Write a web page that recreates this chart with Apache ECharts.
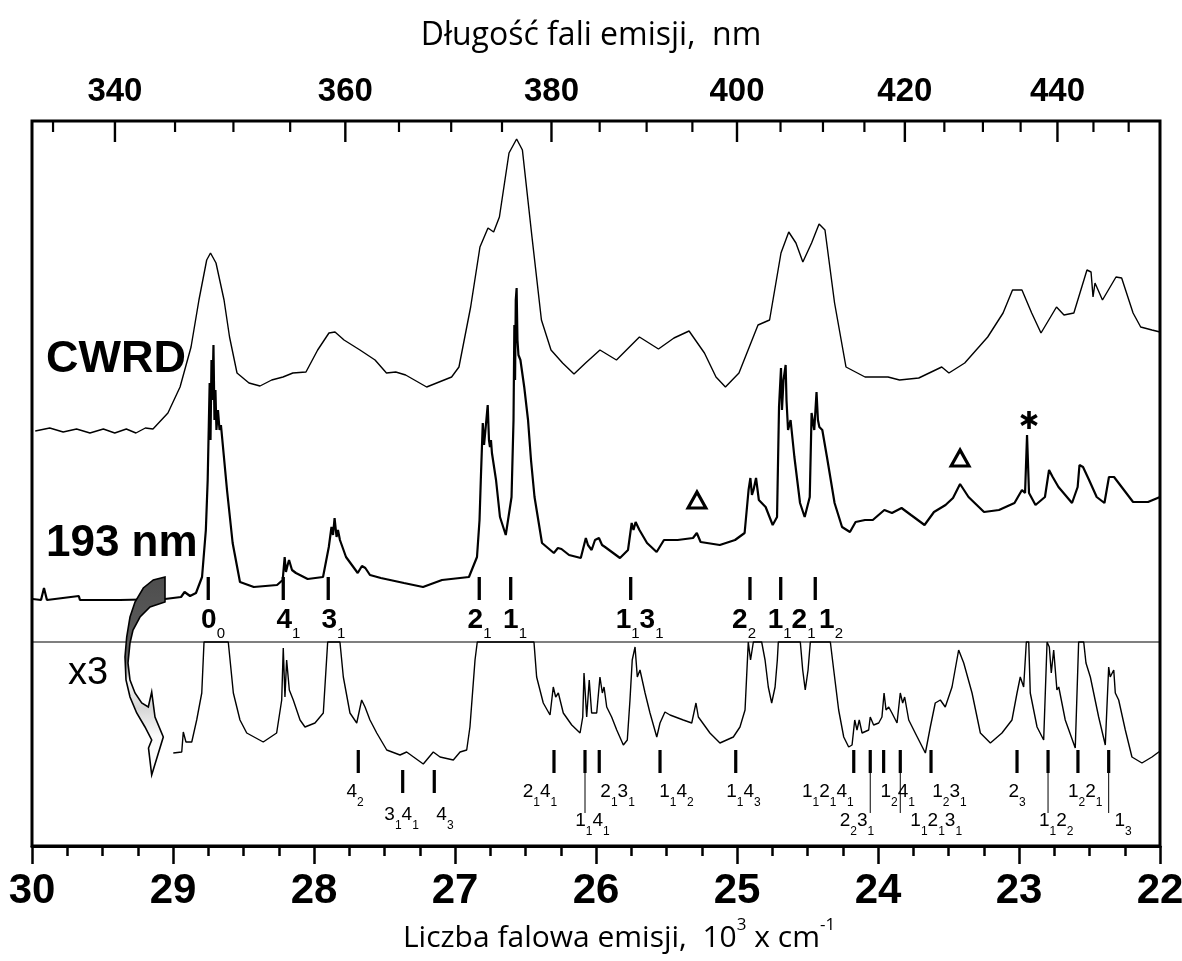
<!DOCTYPE html>
<html><head><meta charset="utf-8">
<script src="https://cdn.jsdelivr.net/npm/echarts@6/dist/echarts.min.js"></script>
<style>html,body{margin:0;padding:0;background:#fff}#c{width:1182px;height:961px}</style>
</head><body><div id="c"></div>
<script>
// ---- spectra: [wavenumber (10^3 cm^-1), intensity (a.u., stacked display)] ----
const cwrd = [[29.977,415],[29.874,418],[29.779,414],[29.684,417],[29.589,413],[29.494,417],[29.413,413],[29.331,417],[29.263,413],[29.196,418],[29.142,417],[29.036,433],[28.950,459],[28.872,499],[28.816,546],[28.761,586],[28.734,593],[28.695,583],[28.638,546],[28.599,509],[28.546,473],[28.461,463],[28.383,460],[28.300,466],[28.220,469],[28.150,473],[28.057,474],[27.974,496],[27.894,513],[27.851,514],[27.787,506],[27.674,496],[27.567,486],[27.486,473],[27.420,474],[27.350,471],[27.201,459],[27.024,469],[26.972,479],[26.889,539],[26.823,599],[26.766,618],[26.726,614],[26.685,629],[26.617,693],[26.563,707],[26.522,696],[26.454,609],[26.387,526],[26.319,496],[26.237,483],[26.156,472],[26.074,483],[25.972,496],[25.855,486],[25.692,509],[25.557,497],[25.447,508],[25.340,515],[25.231,493],[25.149,469],[25.082,459],[24.986,473],[24.851,521],[24.769,526],[24.688,593],[24.633,614],[24.582,603],[24.533,584],[24.471,603],[24.418,622],[24.376,616],[24.308,543],[24.227,479],[24.092,469],[23.929,469],[23.847,466],[23.711,468],[23.548,479],[23.497,473],[23.385,483],[23.222,509],[23.113,533],[23.046,556],[22.979,556],[22.910,533],[22.844,513],[22.734,539],[22.681,531],[22.611,533],[22.518,576],[22.489,574],[22.475,549],[22.461,563],[22.408,546],[22.312,569],[22.272,568],[22.191,533],[22.137,519],[22.057,516],[22.000,514]];

const t193 = [[29.995,247],[29.936,246],[29.915,258],[29.894,246],[29.668,250],[29.660,246],[29.376,246],[29.057,247],[28.943,249],[28.918,254],[28.879,250],[28.837,253],[28.794,269],[28.767,316],[28.754,366],[28.740,463],[28.734,406],[28.727,486],[28.721,446],[28.713,501],[28.706,426],[28.699,456],[28.692,416],[28.681,436],[28.670,416],[28.660,421],[28.617,356],[28.577,303],[28.525,264],[28.427,259],[28.262,261],[28.222,266],[28.208,289],[28.199,274],[28.187,281],[28.177,286],[28.156,276],[28.128,273],[28.045,267],[27.936,269],[27.895,299],[27.876,319],[27.865,311],[27.854,328],[27.840,309],[27.830,316],[27.816,306],[27.773,289],[27.690,273],[27.660,280],[27.636,278],[27.603,271],[27.526,268],[27.362,263],[27.227,259],[27.092,266],[26.901,269],[26.844,289],[26.826,326],[26.817,366],[26.803,423],[26.794,401],[26.784,416],[26.768,441],[26.759,406],[26.752,399],[26.745,406],[26.738,393],[26.709,366],[26.681,329],[26.640,311],[26.599,349],[26.585,426],[26.579,521],[26.574,466],[26.569,546],[26.563,558],[26.557,506],[26.550,491],[26.536,486],[26.509,459],[26.482,426],[26.461,386],[26.436,349],[26.383,303],[26.299,293],[26.270,298],[26.245,297],[26.191,291],[26.108,288],[26.072,308],[26.057,301],[26.031,296],[26.007,306],[25.979,308],[25.957,301],[25.936,299],[25.830,288],[25.773,296],[25.747,323],[25.734,316],[25.719,324],[25.692,316],[25.638,303],[25.570,294],[25.518,306],[25.421,306],[25.312,308],[25.285,313],[25.258,304],[25.122,301],[25.014,306],[24.946,313],[24.918,356],[24.905,368],[24.894,351],[24.883,356],[24.865,368],[24.845,346],[24.797,339],[24.747,321],[24.716,329],[24.702,439],[24.688,478],[24.681,436],[24.670,466],[24.655,481],[24.649,446],[24.638,416],[24.620,426],[24.593,389],[24.553,343],[24.520,329],[24.484,349],[24.471,433],[24.452,416],[24.436,454],[24.426,426],[24.416,419],[24.395,416],[24.362,389],[24.308,343],[24.255,319],[24.199,314],[24.159,324],[24.092,326],[24.037,326],[23.955,336],[23.901,333],[23.833,338],[23.766,331],[23.670,321],[23.603,334],[23.521,341],[23.468,348],[23.418,362],[23.358,349],[23.248,334],[23.142,336],[23.032,343],[22.979,356],[22.957,353],[22.943,411],[22.929,353],[22.883,341],[22.816,349],[22.787,376],[22.761,369],[22.720,359],[22.624,343],[22.584,359],[22.571,381],[22.546,379],[22.503,366],[22.449,349],[22.394,343],[22.362,369],[22.326,369],[22.272,359],[22.191,344],[22.085,344],[22.000,349]];

const x3 = [[28.998,93],[28.938,94],[28.927,114],[28.908,104],[28.867,104],[28.832,126],[28.796,153],[28.780,204],[28.608,204],[28.572,153],[28.525,126],[28.477,113],[28.360,104],[28.265,113],[28.229,146],[28.218,198],[28.206,149],[28.194,186],[28.175,156],[28.147,146],[28.099,126],[28.064,119],[27.993,123],[27.934,133],[27.903,204],[27.816,204],[27.792,169],[27.745,133],[27.697,123],[27.662,146],[27.638,139],[27.603,126],[27.555,113],[27.484,96],[27.390,91],[27.343,94],[27.284,88],[27.225,82],[27.154,94],[27.106,89],[27.012,86],[26.964,94],[26.917,96],[26.894,119],[26.858,186],[26.842,204],[26.440,204],[26.421,169],[26.374,143],[26.326,131],[26.303,159],[26.286,149],[26.267,153],[26.232,133],[26.172,121],[26.113,113],[26.094,129],[26.085,173],[26.066,129],[26.048,166],[26.031,133],[25.995,133],[25.972,169],[25.955,153],[25.943,159],[25.924,139],[25.889,129],[25.853,116],[25.806,101],[25.778,106],[25.759,146],[25.743,186],[25.723,199],[25.707,169],[25.688,176],[25.652,153],[25.617,133],[25.569,109],[25.546,123],[25.511,134],[25.475,131],[25.381,126],[25.321,123],[25.291,143],[25.274,129],[25.192,113],[25.121,103],[25.026,109],[24.979,119],[24.943,136],[24.920,204],[24.904,186],[24.884,204],[24.825,204],[24.801,186],[24.778,159],[24.754,143],[24.730,159],[24.714,186],[24.707,204],[24.551,204],[24.534,176],[24.516,156],[24.496,176],[24.480,204],[24.338,204],[24.314,176],[24.279,136],[24.243,109],[24.208,99],[24.184,101],[24.165,126],[24.149,116],[24.133,126],[24.113,113],[24.066,116],[24.055,129],[24.031,121],[23.995,123],[23.972,129],[23.957,153],[23.943,136],[23.924,139],[23.901,133],[23.865,123],[23.842,153],[23.825,143],[23.811,149],[23.782,126],[23.736,113],[23.664,93],[23.629,119],[23.594,143],[23.558,146],[23.523,139],[23.475,159],[23.428,196],[23.392,183],[23.333,153],[23.274,113],[23.203,103],[23.121,113],[23.050,126],[23.014,153],[22.991,169],[22.967,159],[22.948,204],[22.931,204],[22.920,153],[22.872,119],[22.825,106],[22.801,204],[22.785,199],[22.771,173],[22.754,196],[22.731,156],[22.718,159],[22.672,126],[22.601,98],[22.577,204],[22.541,204],[22.525,183],[22.494,169],[22.435,129],[22.388,101],[22.364,179],[22.353,169],[22.328,176],[22.317,153],[22.293,146],[22.246,116],[22.199,89],[22.128,83],[22.057,89],[22.009,94],[22.000,95]];

const divider = [[30,204],[22,204]];

// ---- top wavelength axis (nm) ----
const topMajorNm = [340,360,380,400,420,440];
const topMinorNm = [335,345,350,355,365,370,375,385,390,395,405,410,415,425,430,435,445,450];

// ---- assignments ----
const upperLabels = ['0₀','4₁','3₁','2₁','1₁','1₁3₁','2₂','1₁2₁','1₂'];
const upperTickW  = [28.750,28.218,27.899,26.828,26.605,25.754,24.908,24.690,24.445];
const upperLabelW = [28.716,28.181,27.862,26.826,26.574,25.691,24.950,24.613,24.333];

const lowerLabels = ['4₂','3₁4₁','4₃','2₁4₁','1₁4₁','2₁3₁','1₁4₂','1₁4₃','1₁2₁4₁','2₂3₁','1₂4₁','1₁2₁3₁','1₂3₁','2₃','1₁2₂','1₂2₁','1₃'];
const lowerTickW  = [27.686,27.371,27.147,26.298,26.078,25.977,25.546,25.009,24.172,24.055,23.960,23.842,23.624,23.014,22.794,22.582,22.364];
const lowerLabelW = [27.709,27.379,27.071,26.397,26.025,25.847,25.429,24.954,24.356,24.149,23.860,23.587,23.493,23.014,22.736,22.530,22.262];
const lowerRow    = [1,3,3,1,2,1,1,1,1,2,1,2,1,1,2,1,2];

const triangleMarks = [[25.284,346],[23.418,388]];
const starMarks = [[22.929,426]];

const traceLabelText = ['CWRD','193 nm','x3'];
const traceLabelPos  = [[29.901,486],[29.901,302],[29.745,172]];

// ---- build ----
const HF = '"Liberation Sans", Arial, Helvetica, sans-serif';
const SUB = {'₀':'0','₁':'1','₂':'2','₃':'3','₄':'4'};
function toRich(s){ let o=''; for (const ch of s){ o += SUB[ch] ? '{s|'+SUB[ch]+'}' : '{m|'+ch+'}'; } return o; }

function tickSeries(data, width){
  return {type:'custom', silent:true, z:5, data,
    renderItem:(p, api)=>{
      const a = api.coord([api.value(0), api.value(1)]);
      const b = api.coord([api.value(0), api.value(2)]);
      return {type:'line', shape:{x1:a[0],y1:a[1],x2:b[0],y2:b[1]}, style:{stroke:'#000', lineWidth:width}};
    }};
}
const rowLabelV = {1:54, 2:25, 3:31};
const lowerBold = [], lowerThin = [];
lowerTickW.forEach((w,i)=>{
  const r = lowerRow[i];
  if (r === 3) lowerBold.push([w,53,76]); else lowerBold.push([w,73,96]);
  if (r === 2) lowerThin.push([w,33,73]);
});
const traceLabelStyle = [
  {fontWeight:'bold', fontSize:45},
  {fontWeight:'bold', fontSize:44},
  {fontWeight:'normal', fontSize:38}
];

const chart = echarts.init(document.getElementById('c'), null, {renderer:'canvas'});
const lineS = (data, width) => ({type:'line', data, showSymbol:false, symbol:'none', silent:true,
  lineStyle:{color:'#000', width}, itemStyle:{color:'#000'}, z:3});

chart.setOption({
  animation:false,
  backgroundColor:'#fff',
  title:{text:'Długość fali emisji,  nm', left:'center', top:15,
    textStyle:{fontFamily:'"Open Sans", sans-serif', fontWeight:'normal', fontSize:32, color:'#000'}},
  grid:{left:32, right:22, top:121, bottom:115, outerBoundsMode:'none', containLabel:false,
    show:true, borderColor:'#000', borderWidth:3, backgroundColor:'transparent'},
  xAxis:[{type:'value', min:22, max:30, interval:1, inverse:true, position:'bottom',
    axisLine:{show:true, lineStyle:{color:'#000', width:3}},
    axisTick:{show:true, length:18, lineStyle:{color:'#000', width:2.5}},
    minorTick:{show:true, splitNumber:4, length:10, lineStyle:{color:'#000', width:2.5}},
    splitLine:{show:false}, minorSplitLine:{show:false},
    axisLabel:{fontFamily:'"Liberation Sans Narrow", "Liberation Sans", Arial, sans-serif', fontWeight:'bold', fontSize:42, color:'#000', margin:24},
    name:'{t|Liczba falowa emisji,  10}{p|3}{t| x cm}{p|-1}', nameLocation:'middle', nameGap:73,
    nameTextStyle:{padding:[0,0,0,46], rich:{
      t:{fontFamily:'"Open Sans", sans-serif', fontSize:30, lineHeight:30, color:'#000'},
      p:{fontFamily:'"Open Sans", sans-serif', fontSize:17, lineHeight:17, padding:[0,0,26,0], color:'#000'}}}
  }],
  yAxis:[{type:'value', min:0, max:725, show:false}],
  graphic:[{
    type:'polygon', z:100,
    shape:{points:[[165,577],[153.3,580],[143.3,588],[135,602],[130,617],[126.7,637],[125,657],[126,680],[130,697],[136.7,713],[145,727],[151.7,740],[148.5,748],[151.7,775],[163.3,737],[155,717],[151.7,692],[148.3,707],[141.7,703],[135,693],[130,680],[128,663],[130,643],[133,630],[140,617],[150,607],[165,602]]},
    style:{fill:new echarts.graphic.LinearGradient(0,0,0,1,[
      {offset:0, color:'#4d4d4d'},{offset:0.42, color:'#606060'},{offset:0.52, color:'#f8f8f8'},
      {offset:0.66, color:'#d6d6d6'},{offset:0.8, color:'#fafafa'},{offset:1, color:'#ffffff'}]),
      stroke:'#000', lineWidth:1.6}
  }],
  series:[
    lineS(cwrd, 1.4),
    lineS(t193, 2.2),
    lineS(x3, 1.4),
    lineS(divider, 1.1),
    // top wavelength axis ticks & labels
    {type:'custom', silent:true, z:6, data: topMinorNm.map(n=>[1e4/n, 725]),
      renderItem:(p, api)=>{ const a = api.coord([api.value(0), api.value(1)]);
        return {type:'line', shape:{x1:a[0],y1:a[1],x2:a[0],y2:a[1]+11}, style:{stroke:'#000', lineWidth:2.2}}; }},
    {type:'custom', silent:true, z:6, data: topMajorNm.map(n=>[1e4/n, 725, n]),
      renderItem:(p, api)=>{ const a = api.coord([api.value(0), api.value(1)]);
        return {type:'group', children:[
          {type:'line', shape:{x1:a[0],y1:a[1],x2:a[0],y2:a[1]+21}, style:{stroke:'#000', lineWidth:2.4}},
          {type:'text', x:a[0], y:a[1]-29, style:{text:String(topMajorNm[p.dataIndex]), fontFamily:HF, fontWeight:'bold', fontSize:33, fill:'#000', align:'center', verticalAlign:'middle', textAlign:'center', textVerticalAlign:'middle'}}
        ]}; }},
    // assignment ticks
    tickSeries(upperTickW.map(w=>[w,246,269]), 3.3),
    tickSeries(lowerBold, 3.2),
    tickSeries(lowerThin, 1),
    // assignment labels
    {type:'scatter', silent:true, z:7, symbolSize:0, itemStyle:{opacity:1}, data: upperLabelW.map(w=>[w,226]),
      label:{show:true, position:'inside', color:'#000', formatter:p=>toRich(upperLabels[p.dataIndex]),
        rich:{m:{fontFamily:HF, fontWeight:'bold', fontSize:28, lineHeight:28, color:'#000'},
              s:{fontFamily:HF, fontSize:15, lineHeight:15, padding:[28,0,0,0], color:'#000'}}}},
    {type:'scatter', silent:true, z:7, symbolSize:0, itemStyle:{opacity:1}, data: lowerLabelW.map((w,i)=>[w,rowLabelV[lowerRow[i]]]),
      label:{show:true, position:'inside', color:'#000', formatter:p=>toRich(lowerLabels[p.dataIndex]),
        rich:{m:{fontFamily:HF, fontSize:19, lineHeight:19, color:'#000'},
              s:{fontFamily:HF, fontSize:12, lineHeight:12, padding:[22,0,0,0], color:'#000'}}}},
    // triangles
    {type:'scatter', silent:true, z:7, symbol:'triangle', symbolSize:[18,16], data:triangleMarks,
      itemStyle:{color:'#fff', borderColor:'#000', borderWidth:3, opacity:1}},
    // star
    {type:'custom', silent:true, z:7, data:starMarks,
      renderItem:(p, api)=>{ const c = api.coord([api.value(0), api.value(1)]); const r = 9; const ch = [];
        [90,30,150].forEach(d=>{ const t = d*Math.PI/180;
          ch.push({type:'line', shape:{x1:c[0]-r*Math.cos(t), y1:c[1]-r*Math.sin(t), x2:c[0]+r*Math.cos(t), y2:c[1]+r*Math.sin(t)}, style:{stroke:'#000', lineWidth:3.6}}); });
        return {type:'group', children:ch}; }},
    // trace names
    {type:'scatter', silent:true, z:8, symbolSize:0, itemStyle:{opacity:1},
      data: traceLabelPos.map((p,i)=>({value:p, label:traceLabelStyle[i]})),
      label:{show:true, position:'right', distance:0, color:'#000', fontFamily:HF,
        formatter:p=>traceLabelText[p.dataIndex]}}
  ]
});
</script></body></html>
